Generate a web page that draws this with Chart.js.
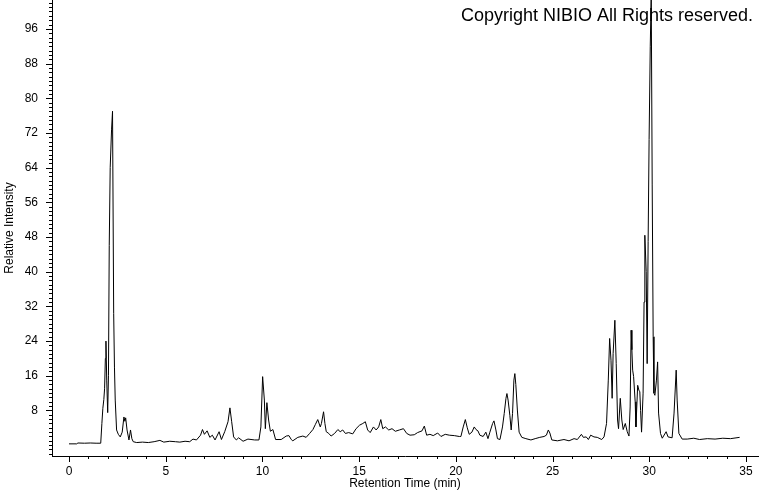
<!DOCTYPE html>
<html><head><meta charset="utf-8">
<script src="https://cdn.jsdelivr.net/npm/chart.js@4"></script>
<style>html,body{margin:0;padding:0;background:#fff}#c{display:block}</style>
</head><body>
<canvas id="c" width="760" height="492"></canvas>
<script>
const retentionTimes = [
0.00,0.40,0.46,0.80,1.10,1.40,1.64,1.70,1.75,1.80,1.84,1.88,1.91,1.95,2.00,2.04,2.08,2.13,2.20,2.25,
2.31,2.35,2.39,2.46,2.55,2.65,2.75,2.84,2.89,2.93,3.00,3.10,3.18,3.25,3.32,3.50,3.80,4.10,4.40,4.70,
4.90,5.21,5.50,5.73,6.00,6.24,6.41,6.59,6.80,6.90,7.00,7.14,7.28,7.41,7.55,7.76,7.88,8.05,8.22,8.32,
8.41,8.51,8.65,8.77,9.00,9.25,9.60,9.82,9.92,10.01,10.10,10.15,10.23,10.32,10.41,10.54,10.68,10.97,11.23,11.37,
11.49,11.57,11.83,12.09,12.26,12.44,12.61,12.74,12.86,12.99,13.05,13.16,13.23,13.30,13.43,13.55,13.73,13.90,14.02,14.15,
14.29,14.46,14.67,14.84,15.02,15.19,15.32,15.44,15.57,15.74,15.88,16.01,16.12,16.22,16.36,16.53,16.70,16.87,17.08,17.29,
17.46,17.63,17.85,18.02,18.25,18.37,18.49,18.66,18.83,19.06,19.23,19.45,19.66,19.92,20.18,20.26,20.38,20.49,20.59,20.69,
20.83,20.95,21.04,21.14,21.24,21.41,21.55,21.66,21.76,21.90,21.97,22.07,22.15,22.28,22.41,22.50,22.59,22.64,22.70,22.79,
22.86,22.93,23.00,23.05,23.10,23.18,23.27,23.41,23.62,23.88,24.10,24.34,24.56,24.68,24.78,24.86,24.96,25.25,25.59,25.85,
26.11,26.28,26.49,26.59,26.74,26.85,26.97,27.14,27.31,27.54,27.66,27.79,27.88,27.95,28.02,28.08,28.13,28.22,28.29,28.36,
28.41,28.50,28.58,28.65,28.76,28.86,28.95,29.01,29.06,29.10,29.14,29.19,29.27,29.31,29.40,29.46,29.51,29.55,29.60,29.68,
29.73,29.77,29.84,29.89,29.94,29.99,30.05,30.10,30.15,30.20,30.24,30.29,30.37,30.43,30.48,30.58,30.67,30.87,30.97,31.18,
31.28,31.39,31.44,31.53,31.70,31.96,32.30,32.60,33.00,33.40,33.80,34.20,34.67
];
const relativeIntensity = [
0.3,0.3,0.5,0.45,0.5,0.45,0.45,5.0,8.5,10.5,13,20,24,15,7.5,16,46,64,72.7,77,
30.4,18,10.4,3.5,2.5,1.9,3,6.5,5.5,6.3,3.5,1.2,3.5,1.5,0.8,0.6,0.7,0.6,0.8,1.1,
0.7,0.9,0.8,0.7,0.9,0.8,1.4,1.2,2.3,3.6,2.5,3.3,1.8,2.3,1.2,3.1,1.3,3.1,5.4,8.6,
5.4,1.9,1.2,1.7,0.9,1.4,1.2,1.2,4.2,15.8,10.4,3.8,9.8,5.8,3.2,3.6,1.3,1.3,2.1,2.2,
1.3,1.0,1.8,2.1,1.8,2.7,3.6,4.8,5.9,4.2,5.0,7.7,5.0,3.1,2.7,2.1,2.7,3.6,3.1,3.5,
2.7,2.9,2.6,3.8,4.6,5.0,5.4,3.5,2.9,4.2,3.5,4.2,5.9,3.8,4.2,3.5,3.8,3.2,3.5,3.8,
2.7,2.3,2.4,2.9,3.3,4.4,2.3,2.5,2.2,2.8,2.0,2.5,2.3,2.2,2.0,2.0,4.2,5.9,4.0,2.5,
3.0,4.2,3.6,3.3,2.3,2.0,3.0,1.5,3.0,5.0,5.6,3.5,1.5,1.3,4.2,7.3,10.8,11.9,10.4,6.9,
3.5,7.3,15.0,16.5,14.0,8.1,3.0,1.8,1.5,1.2,1.5,1.8,2.0,2.3,3.5,2.8,1.2,1.0,1.3,1.0,
1.5,1.3,2.5,1.8,1.9,1.3,2.3,1.9,1.8,1.3,1.9,5.0,15.0,24.6,19.6,10.8,21.1,28.8,18.8,5.8,
3.8,10.8,5.8,3.6,5.0,3.1,2.1,8.8,26.5,22,17.3,15.8,10.0,4.2,13.8,12.7,12.3,8,3.0,12.0,
33,48.4,40,18.8,47,70.5,92,104,60,25,12,11.5,15,19.2,7.4,2.7,1.6,3.1,1.9,1.7,
7.4,17.3,10.4,2.7,1.4,1.4,1.6,1.3,1.5,1.4,1.6,1.5,1.8
];
const xTickValues = [0,5,10,15,20,25,30,35];
const yTickValues = [8,16,24,32,40,48,56,64,72,80,88,96];
const xTitleText = 'Retention Time (min)';
const yTitleText = 'Relative Intensity';
const copyrightText = 'Copyright NIBIO All Rights reserved.';

const FONT = '"Liberation Sans", Arial, Helvetica, sans-serif';

const extras = {
  id: 'extras',
  beforeDatasetsDraw(chart) {
    const ctx = chart.ctx;
    ctx.save();
    ctx.font = '18px ' + FONT;
    ctx.textAlign = 'right';
    ctx.textBaseline = 'alphabetic';
    ctx.fillStyle = '#000';
    ctx.fillText(copyrightText, 753, 20.5);
    ctx.restore();
  },
  afterDraw(chart) {
    const ctx = chart.ctx, xs = chart.scales.x, ys = chart.scales.y;
    const L = chart.chartArea.left, B = chart.chartArea.bottom;
    ctx.save();
    ctx.strokeStyle = '#000';
    ctx.lineWidth = 1;
    ctx.beginPath();
    for (let v = Math.ceil(ys.min); v <= ys.max; v++) {
      const p = Math.round(ys.getPixelForValue(v)) + 0.5;
      const len = (v % 8 === 0 && v > 0) ? 6 : 3;
      ctx.moveTo(L - len, p); ctx.lineTo(L, p);
    }
    for (let t = Math.ceil(xs.min); t <= xs.max; t++) {
      const p = Math.round(xs.getPixelForValue(t)) + 0.5;
      const len = (t % 5 === 0 && t >= 0) ? 6 : 3;
      ctx.moveTo(p, B); ctx.lineTo(p, B + len);
    }
    ctx.stroke();
    ctx.restore();
  }
};

new Chart(document.getElementById('c'), {
  type: 'scatter',
  data: {
    datasets: [{
      data: retentionTimes.map((t, i) => ({x: t, y: relativeIntensity[i]})),
      showLine: true,
      borderColor: '#000',
      borderWidth: 1,
      pointRadius: 0,
      tension: 0,
      fill: false
    }]
  },
  options: {
    responsive: false,
    devicePixelRatio: 1,
    animation: false,
    layout: {padding: {left: 0, right: 2, top: 0, bottom: 0}},
    plugins: {legend: {display: false}, tooltip: {enabled: false}},
    scales: {
      x: {
        type: 'linear', min: -0.879, max: 35.62,
        grid: {display: false, drawTicks: false},
        border: {display: true, color: '#000', width: 1},
        afterBuildTicks(s) { s.ticks = xTickValues.map(v => ({value: v})); },
        afterFit(s) { s.height = 36; s.paddingLeft = 0; s.paddingRight = 0; },
        ticks: {color: '#000', font: {size: 12, family: FONT}, padding: 8, maxRotation: 0, autoSkip: false},
        title: {display: true, text: xTitleText, color: '#000', font: {size: 12, family: FONT}, padding: {top: 0, bottom: 1}}
      },
      y: {
        type: 'linear', min: -2.5, max: 102.65,
        grid: {display: false, drawTicks: false},
        border: {display: true, color: '#000', width: 1},
        afterBuildTicks(s) { s.ticks = yTickValues.map(v => ({value: v})); },
        afterFit(s) { s.width = 52; s.paddingTop = 0; s.paddingBottom = 0; },
        ticks: {color: '#000', font: {size: 12, family: FONT}, padding: 14, autoSkip: false},
        title: {display: true, text: yTitleText, color: '#000', font: {size: 12, family: FONT}, padding: {top: 2, bottom: 0}}
      }
    }
  },
  plugins: [extras]
});
</script>
</body></html>
